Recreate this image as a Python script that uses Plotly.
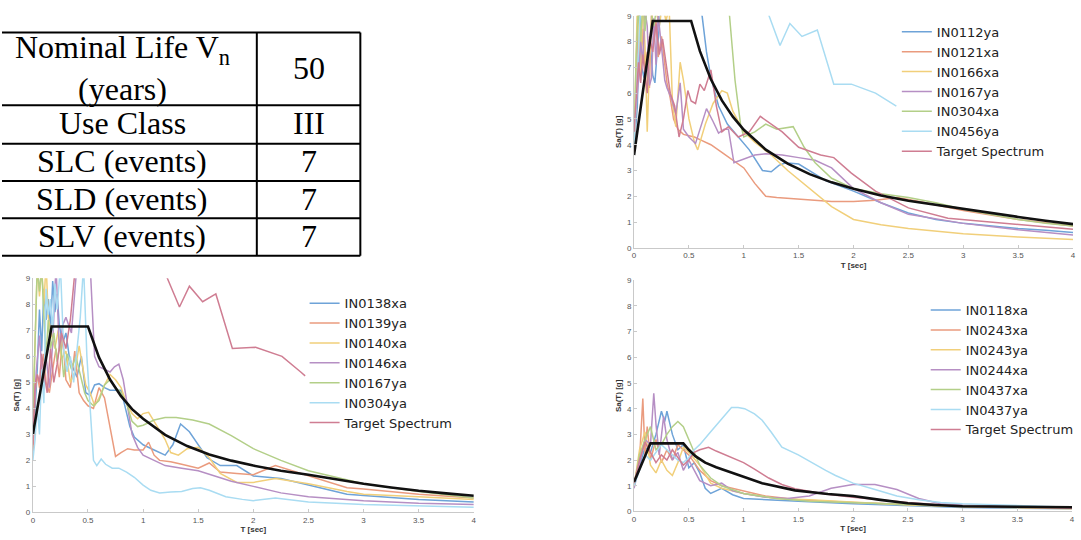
import plotly.graph_objects as go

W, H = 1081, 540

# ---------------- table data ----------------
table_labels = ["Nominal Life V<sub>n</sub><br>(years)", "Use Class", "SLC (events)", "SLD (events)", "SLV (events)"]
table_values = ["50", "III", "7", "7", "7"]

# ---------------- chart data ----------------
names_tr = ["IN0112ya", "IN0121xa", "IN0166xa", "IN0167ya", "IN0304xa", "IN0456ya", "Target Spectrum"]
names_bl = ["IN0138xa", "IN0139ya", "IN0140xa", "IN0146xa", "IN0167ya", "IN0304ya", "Target Spectrum"]
names_br = ["IN0118xa", "IN0243xa", "IN0243ya", "IN0244xa", "IN0437xa", "IN0437ya", "Target Spectrum"]

# top-right panel
tr_T = [
    [0, 0.03, 0.05, 0.07, 0.09, 0.11, 0.13, 0.15, 0.17, 0.19, 0.21, 0.23, 0.25, 0.28, 0.31, 0.35, 0.62, 0.66, 0.7, 0.77, 0.85, 0.95, 1.05, 1.17, 1.25, 1.32, 1.38, 1.5, 1.6, 1.75, 2.0, 2.25, 2.5, 2.75, 3.0, 3.25, 3.5, 3.75, 4.0],
    [0, 0.02, 0.04, 0.06, 0.08, 0.1, 0.12, 0.14, 0.16, 0.18, 0.2, 0.22, 0.25, 0.28, 0.3, 0.33, 0.36, 0.4, 0.45, 0.5, 0.55, 0.6, 0.7, 0.8, 0.9, 1.0, 1.1, 1.2, 1.3, 1.45, 1.6, 1.8, 2.0, 2.2, 2.4, 2.6, 3.0, 3.5, 4.0],
    [0, 0.03, 0.06, 0.08, 0.1, 0.12, 0.15, 0.18, 0.2, 0.23, 0.26, 0.29, 0.32, 0.35, 0.38, 0.42, 0.45, 0.5, 0.55, 0.58, 0.65, 0.72, 0.8, 0.85, 0.9, 1.0, 1.1, 1.25, 1.4, 1.6, 1.8, 2.0, 2.25, 2.5, 3.0, 3.5, 4.0],
    [0, 0.02, 0.04, 0.06, 0.08, 0.1, 0.12, 0.14, 0.16, 0.18, 0.2, 0.22, 0.25, 0.28, 0.3, 0.34, 0.38, 0.42, 0.45, 0.5, 0.56, 0.6, 0.66, 0.72, 0.77, 0.82, 0.86, 0.91, 1.0, 1.1, 1.2, 1.35, 1.5, 1.65, 1.8, 2.0, 2.25, 2.5, 3.0, 3.5, 4.0],
    [0, 0.02, 0.04, 0.06, 0.08, 0.1, 0.12, 0.15, 0.18, 0.22, 0.26, 0.3, 0.35, 0.5, 0.7, 0.87, 0.92, 0.97, 1.0, 1.1, 1.2, 1.3, 1.45, 1.55, 1.65, 1.8, 2.0, 2.25, 2.5, 2.75, 3.0, 3.25, 3.5, 3.75, 4.0],
    [0, 0.03, 0.06, 0.1, 0.5, 1.0, 1.23, 1.33, 1.42, 1.53, 1.67, 1.82, 1.98, 2.2, 2.39],
    [0, 0.02, 0.04, 0.06, 0.08, 0.1, 0.12, 0.14, 0.17, 0.2, 0.23, 0.26, 0.3, 0.33, 0.37, 0.41, 0.45, 0.49, 0.52, 0.56, 0.6, 0.64, 0.7, 0.75, 0.8, 0.86, 0.95, 1.05, 1.15, 1.25, 1.35, 1.5, 1.7, 1.82, 1.98, 2.2, 2.5, 2.86, 3.0, 3.5, 4.0],
]
tr_Sa = [
    [3.8, 5.5, 9.5, 7.0, 6.6, 7.4, 6.5, 7.8, 6.7, 6.4, 7.6, 8.5, 9.6, 10, 11, 12, 9.0, 7.6, 6.6, 5.5, 4.8, 4.3, 3.8, 3.0, 2.95, 3.2, 3.3, 3.25, 3.0, 2.6, 2.2, 1.75, 1.35, 1.1, 0.95, 0.85, 0.75, 0.68, 0.6],
    [3.7, 6.0, 9.5, 7.0, 8.5, 6.8, 7.6, 6.2, 9.4, 8.0, 8.8, 7.4, 8.2, 7.0, 6.4, 5.8, 5.0, 4.6, 4.4, 4.35, 4.3, 4.2, 4.0, 3.7, 3.4, 3.1, 2.5, 2.0, 1.95, 1.9, 1.85, 1.8, 1.8, 1.85, 1.95, 1.8, 1.45, 1.1, 0.85],
    [4.0, 9.5, 6.5, 9.6, 7.8, 4.5, 8.4, 9.6, 9.2, 8.6, 9.5, 8.8, 9.3, 5.6, 4.7, 7.2, 6.5, 5.0, 4.1, 3.8, 4.8, 5.6, 6.1, 6.0, 5.3, 4.5, 4.1, 3.6, 3.0, 2.3, 1.6, 1.1, 0.9, 0.75, 0.55, 0.42, 0.32],
    [4.9, 5.5, 6.5, 8.0, 7.2, 9.2, 8.6, 6.3, 6.6, 8.9, 7.1, 9.0, 7.8, 6.5, 6.2, 5.8, 5.2, 6.4, 4.6, 4.3, 4.05, 4.6, 5.4, 4.9, 4.45, 4.6, 4.6, 3.3, 3.45, 3.6, 3.65, 3.6, 3.5, 3.4, 3.1, 2.3, 1.75, 1.3, 0.95, 0.7, 0.5],
    [4.2, 7.5, 9.4, 8.0, 9.6, 8.4, 9.5, 9.2, 8.6, 9.7, 9.3, 9.5, 10, 12, 11, 9.0, 6.5, 4.8, 4.3, 4.5, 4.8, 4.6, 4.7, 3.9, 3.3, 2.7, 2.3, 2.1, 1.95, 1.75, 1.5, 1.3, 1.1, 0.95, 0.85],
    [4.0, 7.0, 9.5, 12, 15, 14, 9.0, 7.85, 8.7, 8.2, 8.45, 6.35, 6.35, 6.0, 5.5],
    [4.5, 5.8, 7.2, 6.4, 7.5, 6.7, 6.0, 8.2, 7.6, 8.7, 7.5, 8.1, 7.0, 6.0, 5.5, 4.3, 5.0, 6.1, 5.7, 5.6, 6.35, 6.1, 6.9, 5.5, 4.5, 4.7, 4.3, 4.5, 5.1, 4.8, 4.5, 3.9, 3.6, 3.5, 2.9, 2.2, 1.55, 1.15, 1.1, 0.9, 0.72],
]
tr_target_T = [0, 0.17, 0.52, 0.6, 0.7, 0.8, 0.9, 1.0, 1.2, 1.4, 1.6, 1.8, 2.0, 2.25, 2.5, 2.75, 3.0, 3.25, 3.5, 3.75, 4.0]
tr_target_Sa = [3.6, 8.8, 8.8, 7.63, 6.54, 5.72, 5.09, 4.58, 3.81, 3.27, 2.86, 2.54, 2.29, 2.03, 1.83, 1.67, 1.5, 1.36, 1.2, 1.05, 0.92]

# bottom-left panel
bl_T = [
    [0, 0.02, 0.04, 0.06, 0.08, 0.1, 0.12, 0.14, 0.16, 0.18, 0.2, 0.22, 0.24, 0.27, 0.3, 0.33, 0.36, 0.4, 0.44, 0.48, 0.52, 0.56, 0.6, 0.65, 0.7, 0.75, 0.8, 0.84, 0.88, 0.92, 1.0, 1.1, 1.2, 1.27, 1.34, 1.42, 1.5, 1.58, 1.7, 1.85, 2.0, 2.25, 2.5, 2.85, 3.0, 3.5, 4.0],
    [0, 0.02, 0.04, 0.06, 0.08, 0.1, 0.12, 0.15, 0.18, 0.21, 0.24, 0.27, 0.3, 0.34, 0.38, 0.42, 0.46, 0.5, 0.55, 0.6, 0.65, 0.7, 0.75, 0.8, 0.86, 0.92, 1.0, 1.05, 1.1, 1.15, 1.25, 1.35, 1.5, 1.6, 1.7, 1.85, 2.0, 2.2, 2.5, 2.85, 3.0, 3.5, 4.0],
    [0, 0.02, 0.04, 0.06, 0.08, 0.1, 0.12, 0.14, 0.17, 0.2, 0.23, 0.26, 0.3, 0.34, 0.38, 0.42, 0.45, 0.48, 0.52, 0.56, 0.6, 0.65, 0.7, 0.75, 0.8, 0.85, 0.9, 0.95, 1.0, 1.05, 1.1, 1.2, 1.25, 1.32, 1.4, 1.5, 1.6, 1.7, 1.85, 2.0, 2.2, 2.5, 2.85, 3.0, 3.5, 4.0],
    [0, 0.03, 0.06, 0.09, 0.12, 0.15, 0.18, 0.21, 0.24, 0.27, 0.3, 0.35, 0.4, 0.45, 0.52, 0.56, 0.6, 0.65, 0.7, 0.74, 0.78, 0.82, 0.86, 0.9, 0.95, 1.0, 1.1, 1.2, 1.35, 1.5, 1.65, 1.8, 2.0, 2.25, 2.5, 3.0, 3.5, 4.0],
    [0, 0.02, 0.04, 0.06, 0.08, 0.1, 0.12, 0.14, 0.16, 0.19, 0.22, 0.25, 0.28, 0.31, 0.35, 0.39, 0.43, 0.47, 0.5, 0.55, 0.6, 0.65, 0.7, 0.75, 0.8, 0.85, 0.9, 0.95, 1.0, 1.1, 1.2, 1.3, 1.45, 1.6, 1.8, 2.0, 2.25, 2.5, 2.75, 3.0, 3.5, 4.0],
    [0, 0.02, 0.04, 0.06, 0.08, 0.1, 0.12, 0.14, 0.16, 0.18, 0.2, 0.22, 0.25, 0.28, 0.31, 0.34, 0.37, 0.4, 0.43, 0.46, 0.49, 0.52, 0.55, 0.58, 0.62, 0.66, 0.72, 0.78, 0.85, 0.92, 1.0, 1.07, 1.15, 1.25, 1.35, 1.45, 1.52, 1.6, 1.75, 1.9, 2.0, 2.2, 2.5, 3.0, 3.5, 4.0],
    [0, 0.02, 0.04, 0.06, 0.08, 0.1, 0.13, 0.16, 0.19, 0.22, 0.26, 0.3, 0.34, 0.38, 0.42, 0.6, 1.0, 1.22, 1.33, 1.42, 1.54, 1.66, 1.81, 2.02, 2.26, 2.43, 2.47],
]
bl_Sa = [
    [2.3, 4.0, 5.5, 7.8, 6.2, 8.6, 7.4, 8.2, 7.0, 8.9, 7.7, 8.4, 7.2, 6.5, 6.9, 6.0, 5.6, 5.2, 6.0, 4.6, 4.5, 4.9, 4.95, 4.8, 4.7, 4.7, 4.7, 4.0, 3.3, 2.9, 2.6, 2.4, 2.2, 2.6, 3.4, 3.1, 2.6, 2.1, 1.8, 1.8, 1.4, 1.3, 1.05, 0.7, 0.65, 0.5, 0.4],
    [2.2, 4.6, 5.3, 4.8, 5.6, 6.1, 5.0, 4.6, 5.5, 6.3, 5.2, 6.8, 5.1, 4.8, 6.2, 4.6, 4.3, 4.1, 4.0, 4.8, 4.4, 3.2, 2.15, 2.3, 2.45, 2.4, 2.4, 2.7, 2.2, 2.0, 1.95, 1.85, 1.7, 1.9, 1.55, 1.5, 1.45, 1.8, 1.4, 0.95, 0.9, 0.7, 0.55],
    [3.5, 6.5, 9.5, 8.3, 9.4, 8.0, 9.6, 7.5, 6.8, 6.3, 7.0, 5.9, 6.2, 5.0, 5.4, 6.4, 5.7, 4.9, 4.6, 4.1, 4.4, 4.9, 5.3, 5.1, 4.8, 4.2, 3.8, 3.6, 3.8, 3.85, 3.5, 2.8, 2.3, 2.2, 2.45, 2.5, 2.1, 1.5, 1.15, 1.15, 1.3, 1.1, 0.8, 0.7, 0.6, 0.5],
    [3.0, 5.4, 6.8, 5.0, 6.0, 4.8, 6.5, 9.5, 6.2, 7.2, 7.5, 6.9, 9.5, 10.5, 9.5, 6.0, 5.6, 5.5, 5.4, 5.6, 5.7, 5.1, 4.0, 3.0, 2.5, 2.2, 2.0, 1.8, 1.7, 1.6, 1.4, 1.2, 1.0, 0.75, 0.6, 0.45, 0.35, 0.3],
    [3.6, 7.0, 9.5, 8.5, 9.4, 7.6, 6.0, 7.4, 6.3, 6.9, 5.8, 6.6, 5.2, 6.1, 5.5, 6.0, 5.3, 4.6, 4.3, 4.1, 4.3, 4.9, 5.1, 4.8, 4.6, 4.2, 3.5, 3.3, 3.35, 3.55, 3.65, 3.65, 3.55, 3.4, 2.95, 2.45, 2.0, 1.6, 1.35, 1.1, 0.8, 0.55],
    [2.0, 2.8, 4.1, 3.0, 5.5, 4.2, 8.6, 7.6, 8.2, 7.0, 8.8, 7.8, 9.5, 6.2, 5.4, 6.0, 5.0, 6.2, 7.5, 9.5, 6.0, 4.0, 2.0, 1.8, 2.05, 1.85, 1.7, 1.7, 1.55, 1.35, 1.05, 0.85, 0.75, 0.78, 0.8, 0.92, 0.95, 0.85, 0.6, 0.5, 0.45, 0.55, 0.4, 0.3, 0.25, 0.2],
    [2.6, 4.9, 5.3, 5.0, 6.1, 5.4, 4.6, 6.3, 5.0, 5.7, 6.9, 6.3, 7.4, 9.6, 11, 14, 13, 9.0, 7.9, 8.7, 8.1, 8.4, 6.3, 6.35, 6.0, 5.4, 5.25],
]
bl_target_T = [0, 0.17, 0.5, 0.6, 0.7, 0.8, 0.9, 1.0, 1.2, 1.4, 1.6, 1.8, 2.0, 2.25, 2.5, 2.75, 3.0, 3.25, 3.5, 3.75, 4.0]
bl_target_Sa = [3.0, 7.15, 7.15, 5.96, 5.11, 4.47, 3.97, 3.6, 2.98, 2.55, 2.23, 1.99, 1.8, 1.6, 1.45, 1.27, 1.1, 0.96, 0.83, 0.73, 0.64]

# bottom-right panel
br_T = [
    [0, 0.05, 0.1, 0.15, 0.2, 0.25, 0.28, 0.3, 0.35, 0.4, 0.45, 0.5, 0.55, 0.6, 0.65, 0.7, 0.8, 0.9, 1.0, 1.5, 2.0, 3.0, 4.0],
    [0, 0.05, 0.08, 0.1, 0.12, 0.15, 0.2, 0.25, 0.3, 0.35, 0.4, 0.5, 0.6, 0.7, 0.8, 1.0, 1.2, 1.5, 2.0, 3.0, 4.0],
    [0, 0.05, 0.1, 0.15, 0.2, 0.25, 0.3, 0.35, 0.4, 0.45, 0.5, 0.6, 0.7, 0.8, 1.0, 1.3, 1.6, 2.0, 2.5, 3.0, 4.0],
    [0, 0.05, 0.1, 0.15, 0.18, 0.2, 0.23, 0.27, 0.3, 0.35, 0.4, 0.45, 0.5, 0.55, 0.6, 0.7, 0.8, 0.9, 1.0, 1.2, 1.4, 1.6, 1.8, 2.0, 2.2, 2.4, 2.6, 2.8, 3.0, 4.0],
    [0, 0.05, 0.1, 0.15, 0.2, 0.25, 0.3, 0.35, 0.4, 0.45, 0.5, 0.55, 0.6, 0.7, 0.8, 1.0, 1.3, 1.6, 2.0, 3.0, 4.0],
    [0, 0.05, 0.1, 0.15, 0.2, 0.25, 0.3, 0.35, 0.4, 0.45, 0.5, 0.55, 0.6, 0.7, 0.8, 0.89, 0.95, 1.01, 1.1, 1.17, 1.25, 1.35, 1.5, 1.6, 1.75, 1.84, 2.0, 2.2, 2.4, 2.6, 2.8, 3.0, 3.5, 4.0],
    [0, 0.05, 0.1, 0.15, 0.2, 0.25, 0.3, 0.35, 0.4, 0.45, 0.5, 0.55, 0.6, 0.68, 0.75, 0.86, 1.0, 1.1, 1.23, 1.35, 1.47, 1.65, 1.8, 2.0, 2.25, 2.5, 3.0, 3.5, 4.0],
]
br_Sa = [
    [1.0, 1.8, 2.5, 2.3, 3.0, 3.9, 3.5, 3.9, 3.0, 2.4, 2.6, 1.7, 1.9, 1.5, 0.9, 0.7, 0.9, 0.65, 0.5, 0.4, 0.3, 0.15, 0.1],
    [1.0, 2.0, 4.4, 2.2, 3.3, 2.0, 2.8, 1.9, 2.4, 2.0, 2.6, 2.2, 1.6, 1.2, 1.0, 0.8, 0.6, 0.45, 0.35, 0.2, 0.12],
    [1.0, 2.4, 3.1, 1.8, 1.5, 2.0, 1.6, 1.4, 1.9, 2.5, 2.3, 1.8, 1.1, 0.9, 0.7, 0.5, 0.45, 0.35, 0.25, 0.18, 0.1],
    [0.9, 1.9, 2.8, 2.6, 4.6, 3.4, 2.2, 3.7, 2.8, 2.0, 2.3, 1.6, 2.0, 1.6, 1.2, 1.0, 1.1, 0.8, 0.7, 0.55, 0.5, 0.6, 0.9, 1.05, 1.05, 0.85, 0.5, 0.3, 0.25, 0.15],
    [1.0, 2.2, 2.8, 3.3, 2.4, 2.6, 3.0, 3.3, 3.5, 3.3, 2.8, 2.3, 1.8, 1.3, 1.0, 0.7, 0.5, 0.4, 0.35, 0.2, 0.12],
    [1.0, 1.6, 2.2, 2.0, 2.3, 2.6, 2.4, 2.2, 2.0, 1.9, 2.1, 2.4, 2.6, 3.1, 3.6, 4.05, 4.05, 4.0, 3.8, 3.55, 3.1, 2.5, 2.2, 1.95, 1.6, 1.4, 1.1, 0.85, 0.6, 0.45, 0.35, 0.3, 0.22, 0.16],
    [1.1, 2.0, 2.7, 2.3, 1.9, 2.2, 2.0, 2.4, 2.1, 1.8, 2.0, 2.3, 2.4, 2.5, 2.35, 2.15, 1.9, 1.65, 1.3, 1.05, 0.88, 0.75, 0.65, 0.55, 0.45, 0.35, 0.2, 0.15, 0.12],
]
br_target_T = [0, 0.15, 0.45, 0.5, 0.56, 0.65, 0.75, 0.86, 1.0, 1.17, 1.3, 1.47, 1.77, 2.0, 2.25, 2.5, 2.75, 3.0, 3.5, 4.0]
br_target_Sa = [1.15, 2.65, 2.65, 2.4, 2.15, 1.9, 1.72, 1.57, 1.35, 1.1, 0.97, 0.82, 0.68, 0.6, 0.45, 0.32, 0.25, 0.2, 0.18, 0.16]

x_ticks = [0, 0.5, 1, 1.5, 2, 2.5, 3, 3.5, 4]
x_tick_text = ["0", "0.5", "1", "1.5", "2", "2.5", "3", "3.5", "4"]
y_ticks = [0, 1, 2, 3, 4, 5, 6, 7, 8, 9]

colors = ["#6ea3d8", "#ea9b7e", "#f1cf7a", "#b68fc4", "#b3cf88", "#a9dcf2", "#cf7d92"]

# ---------------- figure ----------------
def px_x(p):
    return p / W

def px_y(p):
    return 1 - p / H

fig = go.Figure()

panels = [
    ("x", "y", "legend", names_tr, tr_T, tr_Sa, tr_target_T, tr_target_Sa),
    ("x2", "y2", "legend2", names_bl, bl_T, bl_Sa, bl_target_T, bl_target_Sa),
    ("x3", "y3", "legend3", names_br, br_T, br_Sa, br_target_T, br_target_Sa),
]
for xa, ya, lg, names, Ts, Sas, tT, tS in panels:
    for i, (nm, t, s) in enumerate(zip(names, Ts, Sas)):
        fig.add_trace(go.Scatter(x=t, y=s, mode="lines", name=nm, xaxis=xa, yaxis=ya,
                                 legend=lg, line=dict(color=colors[i], width=1.5)))
    fig.add_trace(go.Scatter(x=tT, y=tS, mode="lines", showlegend=False, xaxis=xa, yaxis=ya,
                             line=dict(color="#111111", width=2.6)))

axis_common = dict(showline=True, linecolor="#c9c9c9", linewidth=1, ticks="inside", ticklen=3,
                   tickcolor="#c9c9c9", tickfont=dict(size=8, color="#555555", family="Liberation Sans"),
                   showgrid=False, zeroline=False, fixedrange=True, ticklabeloverflow="allow")

domains = {
    "1": ((635, 1076), (12, 248)),
    "2": ((31, 474), (279, 517)),
    "3": ((635, 1075), (281, 516)),
}
for k, ((x0, x1), (y0, y1)) in domains.items():
    sfx = "" if k == "1" else k
    anchor_x = "y" if k == "1" else "y" + k
    anchor_y = "x" if k == "1" else "x" + k
    fig.layout["xaxis" + sfx] = dict(axis_common, domain=[px_x(x0), px_x(x1)], range=[0, 4], anchor=anchor_x,
                                     tickvals=x_ticks, ticktext=x_tick_text,
                                     title=dict(text="<b>T [sec]</b>", standoff=2,
                                                font=dict(size=8, color="#333333", family="Liberation Sans")))
    fig.layout["yaxis" + sfx] = dict(axis_common, domain=[px_y(y1), px_y(y0)], range=[0, 9], anchor=anchor_y,
                                     tickvals=y_ticks,
                                     title=dict(text="<b>Sa(T) [g]</b>", standoff=4,
                                                font=dict(size=8, color="#333333", family="Liberation Sans")))

leg_common = dict(font=dict(size=13, color="#222222", family="DejaVu Sans"), bgcolor="rgba(0,0,0,0)",
                  xanchor="left", yanchor="top", borderwidth=0, tracegroupgap=0)
fig.update_layout(
    legend=dict(leg_common, x=px_x(899), y=px_y(13)),
    legend2=dict(leg_common, x=px_x(304), y=px_y(289)),
    legend3=dict(leg_common, x=px_x(928), y=px_y(296)),
)

# ---------------- table ----------------
row_edges = [29, 103, 142, 180, 218, 256]
col_edges = [0, 256, 360]
shapes = []
for r in row_edges:
    shapes.append(dict(type="line", xref="paper", yref="paper", x0=px_x(col_edges[0]), x1=px_x(col_edges[-1]),
                       y0=px_y(r), y1=px_y(r), line=dict(color="black", width=2)))
for c in col_edges[1:]:
    shapes.append(dict(type="line", xref="paper", yref="paper", x0=px_x(c), x1=px_x(c),
                       y0=px_y(row_edges[0]), y1=px_y(row_edges[-1]), line=dict(color="black", width=2)))

annotations = []
for i, (lab, val) in enumerate(zip(table_labels, table_values)):
    yc = (row_edges[i] + row_edges[i + 1]) / 2
    annotations.append(dict(x=px_x(121), y=px_y(yc - 1), xref="paper", yref="paper", text=lab, showarrow=False,
                            xanchor="center", yanchor="middle",
                            font=dict(family="Liberation Serif", size=32, color="black")))
    annotations.append(dict(x=px_x(308), y=px_y(yc - 1), xref="paper", yref="paper", text=val, showarrow=False,
                            xanchor="center", yanchor="middle",
                            font=dict(family="Liberation Serif", size=32, color="black")))

fig.update_layout(width=W, height=H, margin=dict(l=0, r=0, t=0, b=0), paper_bgcolor="white",
                  plot_bgcolor="white", shapes=shapes, annotations=annotations)

fig.write_html("out.html", config={"displayModeBar": False},
               post_script="document.body.style.margin='0';document.body.style.padding='0';"
                           "document.body.style.overflow='hidden';")
